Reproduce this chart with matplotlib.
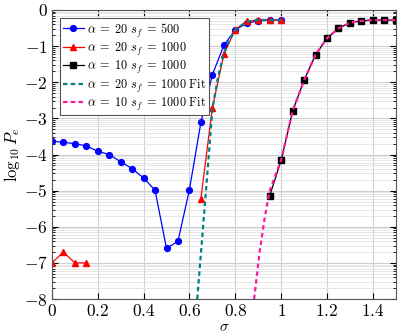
import numpy as np
import matplotlib
matplotlib.use('Agg')
import matplotlib.pyplot as plt

plt.rcParams['mathtext.fontset'] = 'cm'
plt.rcParams['font.family'] = 'DejaVu Serif'

# alpha = 20, s_f = 500
sig_blue = [0, 0.05, 0.1, 0.15, 0.2, 0.25, 0.3, 0.35, 0.4, 0.45, 0.5, 0.55, 0.6,
            0.65, 0.7, 0.75, 0.8, 0.85, 0.9, 0.95, 1.0]
pe_blue = [-3.63, -3.66, -3.70, -3.76, -3.91, -4.00, -4.20, -4.39, -4.65, -4.99,
           -6.60, -6.40, -4.97, -3.11, -1.79, -0.98, -0.55, -0.37, -0.30, -0.28, -0.28]

# alpha = 20, s_f = 1000 (gap between the two pieces)
sig_red = [0, 0.05, 0.1, 0.15, 0.2, 0.65, 0.7, 0.75, 0.8, 0.85, 0.9, 0.95, 1.0]
pe_red = [-7.0, -6.7, -7.0, -7.0, np.nan, -5.22, -2.70, -1.23, -0.54, -0.31, -0.28, -0.28, -0.28]

# alpha = 10, s_f = 1000
sig_black = [0.95, 1.0, 1.05, 1.1, 1.15, 1.2, 1.25, 1.3, 1.35, 1.4, 1.45, 1.5]
pe_black = [-5.14, -4.16, -2.80, -1.94, -1.24, -0.78, -0.51, -0.35, -0.30, -0.28, -0.28, -0.28]

# fits
sig_fit20 = [0.634, 0.65, 0.67, 0.7, 0.725, 0.75, 0.775, 0.8, 0.85, 0.9, 1.0]
pe_fit20 = [-8.0, -6.74, -5.17, -2.75, -1.85, -1.2, -0.82, -0.55, -0.32, -0.28, -0.28]

sig_fit10 = [0.882, 0.907, 0.929, 0.95, 1.0, 1.05, 1.1, 1.15, 1.2, 1.25, 1.3, 1.35, 1.4, 1.5]
pe_fit10 = [-8.0, -6.65, -5.72, -5.0, -4.15, -2.8, -1.94, -1.24, -0.78, -0.51, -0.35, -0.30, -0.28, -0.28]

fig = plt.figure(figsize=(3.99, 3.33), dpi=100)
ax = fig.add_axes([0.130, 0.102, 0.862, 0.868])

# grid: major + log-style minor lines in each decade
minor_y = [k + np.log10(m) for k in range(-8, 0) for m in range(2, 10)]
ax.set_yticks(minor_y, minor=True)
ax.grid(True, which='major', color='#cfcfcf', linewidth=0.8)
ax.grid(True, which='minor', axis='y', color='#e3e3e3', linewidth=0.6)
ax.set_axisbelow(True)

ax.plot(sig_blue, pe_blue, '-o', color='#0000ff', lw=0.9, ms=4.2,
        label=r'$\alpha\;=\;20\ s_f\;=\;500$')
ax.plot(sig_red, pe_red, '-^', color='#ff0000', lw=0.9, ms=4.2,
        label=r'$\alpha\;=\;20\ s_f\;=\;1000$')
ax.plot(sig_black, pe_black, '-s', color='black', lw=0.9, ms=4.0,
        label=r'$\alpha\;=\;10\ s_f\;=\;1000$')
ax.plot(sig_fit20, pe_fit20, color='#008080', lw=1.6, dashes=(2, 1.5),
        label=r'$\alpha\;=\;20\ s_f\;=\;1000\ \mathrm{Fit}$')
ax.plot(sig_fit10, pe_fit10, color='#ff1a9c', lw=1.6, dashes=(2, 1.5),
        label=r'$\alpha\;=\;10\ s_f\;=\;1000\ \mathrm{Fit}$')

ax.set_xlim(0, 1.5)
ax.set_ylim(-8, 0)
xt = [0, 0.2, 0.4, 0.6, 0.8, 1.0, 1.2, 1.4]
ax.set_xticks(xt)
ax.set_xticklabels([f'${v:g}$' for v in xt], fontsize=12.5)
yt = list(range(-8, 1))
ax.set_yticks(yt)
ax.set_yticklabels([f'${v}$' for v in yt], fontsize=12.5)
ax.tick_params(which='both', direction='in', top=True, right=True, pad=3)
ax.tick_params(which='major', length=4)
ax.tick_params(which='minor', length=2)
for s in ax.spines.values():
    s.set_color('#555555')

ax.set_xlabel(r'$\sigma$', fontsize=11)
ax.xaxis.set_label_coords(0.5, -0.072)
ax.xaxis.label.set_va('top')
ax.set_ylabel(r'$\log_{10} P_e$', fontsize=12, labelpad=1)

leg = ax.legend(loc='upper left', fontsize=8.8, handlelength=1.7, handletextpad=0.3,
                borderpad=0.25, labelspacing=0.12, fancybox=False, framealpha=1,
                edgecolor='#555555', bbox_to_anchor=(0.005, 0.995))
leg.get_frame().set_linewidth(0.8)

fig.savefig('out.png', dpi=100)
